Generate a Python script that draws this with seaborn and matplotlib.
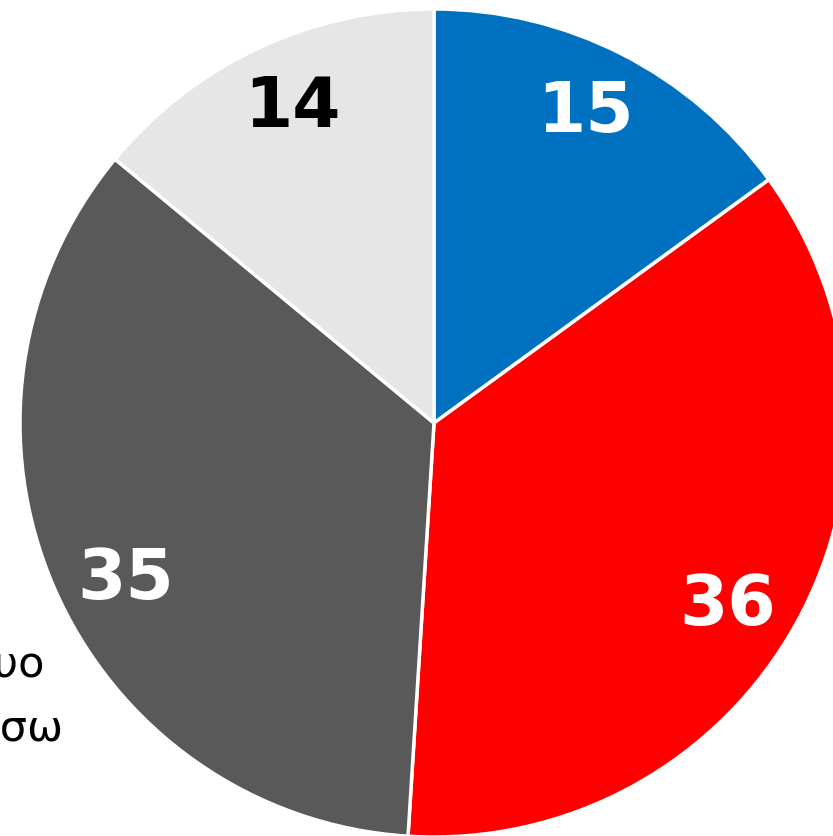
import numpy as np
import matplotlib
matplotlib.use("Agg")
import matplotlib.pyplot as plt
import seaborn as sns

# Data
categories = ["Μπροστά", "Πιο δυνατά", "Στο ίδιο", "Πίσω"]
values = [15, 36, 35, 14]
colors = ["#0070C0", "#FF0000", "#595959", "#E6E6E6"]
label_colors = ["white", "white", "white", "black"]
legend_lines = ["Κανένα από τα δυο", "Λίγο πιο πίσω"]

sns.set_style("white")
plt.rcParams["font.family"] = ["DejaVu Sans"]

W, H = 833, 836
fig = plt.figure(figsize=(W / 100, H / 100), dpi=100)

# pie centre / radius in pixels
cx, cy, r = 434, 423, 414
ax = fig.add_axes([(cx - r) / W, (H - cy - r) / H, 2 * r / W, 2 * r / H])

wedges, texts = ax.pie(values, colors=colors, startangle=90, counterclock=False,
                       radius=1, labels=[str(v) for v in values], labeldistance=0.835,
                       wedgeprops=dict(edgecolor="white", linewidth=2.5))

# small angular nudges (degrees) so labels sit like the original
nudge = [1.0, -3.0, 3.5, -1.0]
for w, t, c, dn in zip(wedges, texts, label_colors, nudge):
    th = np.deg2rad((w.theta1 + w.theta2) / 2 + dn)
    t.set_position((0.835 * np.cos(th), 0.835 * np.sin(th)))
    t.set_color(c)
    t.set_fontsize(50)
    t.set_fontweight("heavy")
    t.set_ha("center")
    t.set_va("center")
ax.set_xlim(-1, 1)
ax.set_ylim(-1, 1)
ax.set_aspect("equal")
ax.axis("off")

# legend-like text, cut off at the left edge
fig.text(44 / W, 1 - 678 / H, legend_lines[0], ha="right", va="baseline", fontsize=31, color="black")
fig.text(63 / W, 1 - 741 / H, legend_lines[1], ha="right", va="baseline", fontsize=31, color="black")

fig.savefig("out.png", dpi=100)
